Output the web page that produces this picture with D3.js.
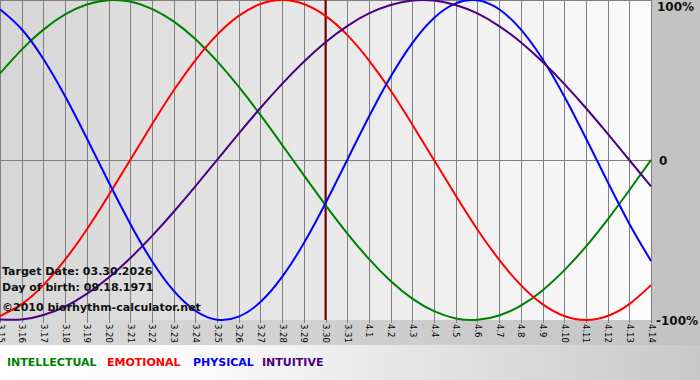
<!DOCTYPE html>
<html>
<head>
<meta charset="utf-8">
<script src="https://cdn.jsdelivr.net/npm/d3@7"></script>
<style>
  body { margin: 0; background: #fff; }
  svg { display: block; font-family: "DejaVu Sans", Verdana, sans-serif; }
</style>
</head>
<body>
<div id="chart"></div>
<script>
//Day labels (3.15 .. 4.14)
let dayLabels = ["3.15","3.16","3.17","3.18","3.19","3.20","3.21","3.22","3.23","3.24","3.25","3.26","3.27","3.28","3.29","3.30","3.31",
	"4.1","4.2","4.3","4.4","4.5","4.6","4.7","4.8","4.9","4.10","4.11","4.12","4.13","4.14"];

//Cycle values, one per day
let physical = [0.942,0.817,0.631,0.398,0.136,-0.136,-0.398,-0.631,-0.817,-0.942,-0.998,-0.979,-0.888,-0.731,-0.520,-0.270,
	0.000,0.270,0.520,0.731,0.888,0.979,0.998,0.942,0.817,0.631,0.398,0.136,-0.136,-0.398,-0.631];
let emotional = [-0.975,-0.901,-0.782,-0.623,-0.434,-0.222,0.000,0.222,0.434,0.623,0.782,0.901,0.975,1.000,0.975,0.901,
	0.782,0.623,0.434,0.222,0.000,-0.222,-0.434,-0.623,-0.782,-0.901,-0.975,-1.000,-0.975,-0.901,-0.782];
let intellectual = [0.541,0.690,0.815,0.910,0.972,0.999,0.990,0.945,0.866,0.756,0.618,0.458,0.282,0.095,-0.095,-0.282,
	-0.458,-0.618,-0.756,-0.866,-0.945,-0.990,-0.999,-0.972,-0.910,-0.815,-0.690,-0.541,-0.372,-0.189,0.000];
let intuitive = [-0.997,-0.997,-0.969,-0.916,-0.837,-0.736,-0.614,-0.476,-0.325,-0.165,0.000,0.165,0.325,0.476,0.614,0.736,
	0.837,0.916,0.969,0.997,0.997,0.969,0.916,0.837,0.736,0.614,0.476,0.325,0.165,0.000,-0.165];

let targetIndex = 15;
let yTicks = [{v: 1, t: "100%"}, {v: 0, t: "0"}, {v: -1, t: "-100%"}];

let series = [
	{name: "INTELLECTUAL", values: intellectual, color: "#008000"},
	{name: "EMOTIONAL", values: emotional, color: "#ff0000"},
	{name: "PHYSICAL", values: physical, color: "#0000ff"},
	{name: "INTUITIVE", values: intuitive, color: "#4b0082"}
];

//Dimensions
let width = 700;
let height = 380;
let plotW = 651;
let plotH = 320;

let svg = d3.select("#chart").append("svg")
	.attr("width", width)
	.attr("height", height);

let defs = svg.append("defs");
let bg = defs.append("linearGradient").attr("id", "bg").attr("x1", 0).attr("x2", 1).attr("y1", 0).attr("y2", 0);
bg.append("stop").attr("offset", 0).attr("stop-color", "#d6d6d6");
bg.append("stop").attr("offset", 1).attr("stop-color", "#fbfbfb");
let band = defs.append("linearGradient").attr("id", "band").attr("x1", 0).attr("x2", 1).attr("y1", 0).attr("y2", 0);
band.append("stop").attr("offset", 0).attr("stop-color", "#dadada");
band.append("stop").attr("offset", 1).attr("stop-color", "#c4c4c4");
let leg = defs.append("linearGradient").attr("id", "leg").attr("x1", 0).attr("x2", 1).attr("y1", 0).attr("y2", 0);
leg.append("stop").attr("offset", 0).attr("stop-color", "#ffffff");
leg.append("stop").attr("offset", 0.3).attr("stop-color", "#fafafa");
leg.append("stop").attr("offset", 1).attr("stop-color", "#c8c8c8");

//Scales
let x = d3.scaleLinear().domain([0, dayLabels.length - 1]).range([0, plotW]);
let y = d3.scaleLinear().domain([-1, 1]).range([plotH, 0]);

//Backgrounds
svg.append("rect").attr("x", 0).attr("y", plotH).attr("width", width).attr("height", 25).attr("fill", "url(#band)");
svg.append("rect").attr("x", 0).attr("y", plotH + 25).attr("width", width).attr("height", height - plotH - 25).attr("fill", "url(#leg)");
svg.append("rect").attr("x", plotW).attr("y", 0).attr("width", width - plotW).attr("height", plotH + 25).attr("fill", "#c3c3c3");
svg.append("rect").attr("x", 0).attr("y", 0).attr("width", plotW).attr("height", plotH).attr("fill", "url(#bg)");

//Grid
svg.append("g")
	.selectAll("line")
	.data(dayLabels)
	.enter()
		.append("line")
			.attr("x1", function(d, i){ return Math.round(x(i)) + 0.5; })
			.attr("x2", function(d, i){ return Math.round(x(i)) + 0.5; })
			.attr("y1", 0)
			.attr("y2", plotH + 3)
			.attr("stroke", "#808080")
			.attr("stroke-width", 1);

svg.append("line")
	.attr("x1", 0).attr("x2", plotW)
	.attr("y1", y(0) + 0.5).attr("y2", y(0) + 0.5)
	.attr("stroke", "#808080");
svg.append("line")
	.attr("x1", 0).attr("x2", plotW)
	.attr("y1", 0.5).attr("y2", 0.5)
	.attr("stroke", "#808080");

//Target day line
svg.append("line")
	.attr("x1", x(targetIndex)).attr("x2", x(targetIndex))
	.attr("y1", 0).attr("y2", plotH)
	.attr("stroke", "#800000")
	.attr("stroke-width", 2);

//Curves
let line = d3.line()
	.x(function(d, i){ return x(i); })
	.y(function(d){ return y(d); })
	.curve(d3.curveNatural);

svg.append("g")
	.selectAll("path")
	.data(series)
	.enter()
		.append("path")
			.attr("d", function(d){ return line(d.values); })
			.attr("fill", "none")
			.attr("stroke", function(d){ return d.color; })
			.attr("stroke-width", 2);

//Day labels, rotated
svg.append("g")
	.selectAll("text")
	.data(dayLabels)
	.enter()
		.append("text")
			.attr("transform", function(d, i){ return "translate(" + (x(i) + 0.5) + "," + (plotH + 4) + ") rotate(90)"; })
			.attr("dy", "0.35em")
			.style("font-size", "8.5px")
			.attr("fill", "#000")
			.text(function(d){ return d; });

//Percent labels
svg.append("g")
	.selectAll("text")
	.data(yTicks)
	.enter()
		.append("text")
			.attr("x", function(d){ return d.v == 0 ? 659 : (d.v > 0 ? 657 : 656); })
			.attr("y", function(d){ return y(d.v) + (d.v > 0 ? 11 : 5); })
			.style("font-size", "12px")
			.style("font-weight", "bold")
			.attr("fill", "#111")
			.text(function(d){ return d.t; });

//Info text
let info = ["Target Date: 03.30.2026", "Day of birth: 09.18.1971", "\u00a92010 biorhythm-calculator.net"];
let infoY = [275, 291, 311];
svg.append("g")
	.selectAll("text")
	.data(info)
	.enter()
		.append("text")
			.attr("x", 2)
			.attr("y", function(d, i){ return infoY[i]; })
			.style("font-size", "11px")
			.style("font-weight", "bold")
			.attr("fill", "#111")
			.text(function(d){ return d; });

//Legend
let legendX = [7, 107, 193, 262];
svg.append("g")
	.selectAll("text")
	.data(series)
	.enter()
		.append("text")
			.attr("x", function(d, i){ return legendX[i]; })
			.attr("y", 366)
			.style("font-size", "11px")
			.style("font-weight", "bold")
			.attr("fill", function(d){ return d.color; })
			.text(function(d){ return d.name; });
</script>
</body>
</html>
